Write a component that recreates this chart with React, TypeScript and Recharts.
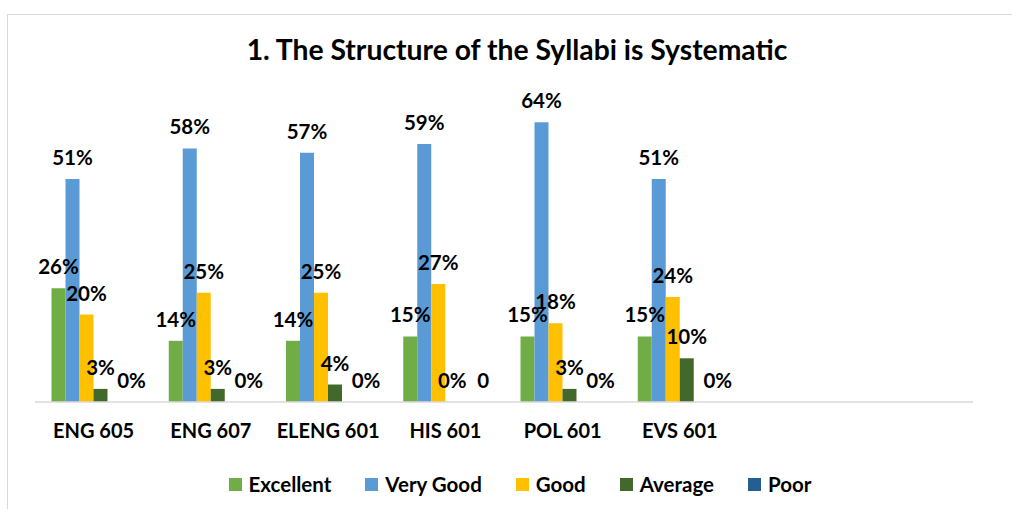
import React from 'react';
import { BarChart, Bar, XAxis, YAxis, Legend, LabelList } from 'recharts';

// Survey results per course, in percent
const categories = ['ENG 605', 'ENG 607', 'ELENG 601', 'HIS 601', 'POL 601', 'EVS 601', '', ''];
const excellent = [26, 14, 14, 15, 15, 15];
const veryGood = [51, 58, 57, 59, 64, 51];
const good = [20, 25, 25, 27, 18, 24];
const average = [3, 3, 4, 0, 3, 10];
const poor = [0, 0, 0, 0, 0, 0];
const poorLabels = ['0%', '0%', '0%', '0', '0%', '0%'];

const series = [
  { key: 'excellent', name: 'Excellent', color: '#70AD47' },
  { key: 'veryGood', name: 'Very Good', color: '#5B9BD5' },
  { key: 'good', name: 'Good', color: '#FFC000' },
  { key: 'average', name: 'Average', color: '#43682B' },
  { key: 'poor', name: 'Poor', color: '#255E91' },
];

const data = categories.map((name, i) => ({
  name,
  excellent: excellent[i] ?? null,
  veryGood: veryGood[i] ?? null,
  good: good[i] ?? null,
  average: average[i] ?? null,
  poor: poor[i] ?? null,
  blank: null,
}));

const FONT = 'Lato, "Open Sans", sans-serif';

const makeLabel = (dx: number, texts?: string[]) => (props: any) => {
  const { x, y, width, value, index } = props;
  if (value === null || value === undefined || x === undefined) return null;
  const text = texts ? texts[index] : `${value}%`;
  return (
    <text
      x={Number(x) + Number(width) / 2 + dx}
      y={Number(y) - 22}
      textAnchor="middle"
      dominantBaseline="central"
      fontFamily={FONT}
      fontWeight={700}
      fontSize={20.5}
      fill="#000"
    >
      {text}
    </text>
  );
};

const renderLegend = () => (
  <div
    style={{
      display: 'flex',
      justifyContent: 'center',
      gap: 34,
      paddingLeft: 28,
      fontFamily: FONT,
      fontWeight: 700,
      fontSize: 20.5,
      color: '#000',
    }}
  >
    {series.map((s) => (
      <div key={s.key} style={{ display: 'flex', alignItems: 'center', gap: 7 }}>
        <span style={{ width: 13, height: 13, background: s.color, display: 'inline-block' }} />
        <span>{s.name}</span>
      </div>
    ))}
  </div>
);

export default function App() {
  return (
    <div
      style={{
        position: 'absolute',
        left: 0,
        top: 0,
        width: 1012,
        height: 509,
        background: '#fff',
        overflow: 'hidden',
      }}
    >
      <div
        style={{
          position: 'absolute',
          left: 7,
          top: 14,
          width: 1020,
          height: 520,
          border: '1px solid #d9d9d9',
        }}
      />
      <div
        style={{
          position: 'absolute',
          left: 0,
          top: 32,
          width: 1034,
          textAlign: 'center',
          fontFamily: FONT,
          fontWeight: 700,
          fontSize: 28.3,
          color: '#000',
        }}
      >
        1. The Structure of the Syllabi is Systematic
      </div>
      <BarChart
        width={1012}
        height={509}
        data={data}
        margin={{ top: 96, right: 39, bottom: 53, left: 35 }}
        barCategoryGap={16.5}
        barGap={0}
        style={{ position: 'absolute', left: 0, top: 0 }}
      >
        <XAxis
          dataKey="name"
          interval={0}
          tickLine={false}
          axisLine={{ stroke: '#d9d9d9', strokeWidth: 1.5 }}
          tick={{ fill: '#000', fontFamily: FONT, fontWeight: 700, fontSize: 20 }}
          tickMargin={16}
        />
        <YAxis hide domain={[0, 70]} />
        {series.map((s) => (
          <Bar
            key={s.key}
            dataKey={s.key}
            name={s.name}
            fill={s.color}
            minPointSize={0.01}
            isAnimationActive={false}
          >
            <LabelList
              dataKey={s.key}
              content={s.key === 'poor' ? makeLabel(17, poorLabels) : makeLabel(0)}
            />
          </Bar>
        ))}
        <Bar dataKey="blank" fill="#fff" legendType="none" isAnimationActive={false} />
        <Legend
          content={renderLegend}
          wrapperStyle={{ position: 'absolute', top: 472, left: 0, width: 1012 }}
        />
      </BarChart>
    </div>
  );
}
